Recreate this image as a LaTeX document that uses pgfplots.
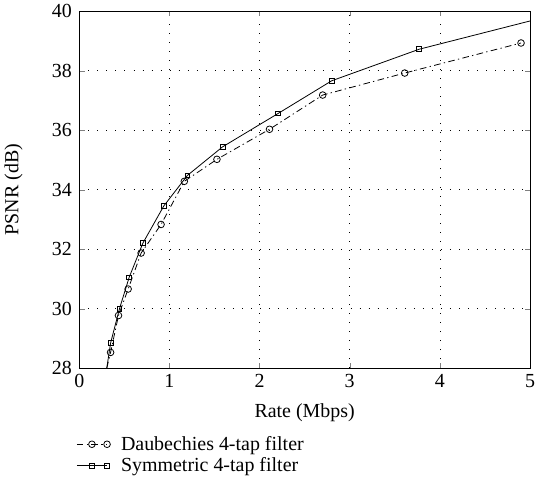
\documentclass[border=0pt]{standalone}
\usepackage{pgfplots}
\pgfplotsset{compat=1.18}
\usetikzlibrary{calc}
\usepackage{fontspec}
\setmainfont{Liberation Serif}
\begin{document}
\begin{tikzpicture}
\begin{axis}[
  scale only axis,
  width=339pt, height=268.5pt,
  xmin=0, xmax=5, ymin=28, ymax=40,
  xtick={0,1,2,3,4,5}, ytick={28,30,...,40},
  /pgf/number format/assume math mode=true,
  tick label style={font=\fontsize{15}{17}\selectfont},
  xticklabel style={yshift=-1pt},
  yticklabel style={xshift=-2pt},
  label style={font=\fontsize{15}{17}\selectfont},
  xlabel={Rate (Mbps)}, ylabel={PSNR (dB)},
  xlabel style={at={(axis description cs:0.5,-0.126)}, anchor=center},
  ylabel style={at={(axis description cs:-0.146,0.5)}, anchor=center},
  grid=major,
  major grid style={black, line width=0.5pt, dash pattern=on 0.6pt off 6.2pt},
  tick align=inside, tick pos=both,
  major tick length=4pt,
  axis line style={line width=0.8pt},
  legend image code/.code={\draw[mark repeat=2,mark phase=2,#1] plot coordinates {(0cm,0cm) (0.4cm,0cm) (0.8cm,0cm)};},
  legend style={draw=none, fill=none, at={(axis description cs:-0.007,-0.175)}, anchor=north west,
    font=\fontsize{15}{17}\selectfont, row sep=0pt, inner xsep=0pt,
    nodes={inner xsep=0pt}, /tikz/every odd column/.append style={column sep=8pt}},
  legend cell align=left,
]
\addplot[black, line width=0.6pt, dash pattern=on 5pt off 2.5pt on 1pt off 2.5pt,
  mark=o, mark size=2.5pt, mark options={solid}, mark indices={2,3,4,5,6,7,8,9,10,11,12}]
coordinates {
(0.305,28.0) (0.347,28.53) (0.435,29.77) (0.542,30.66) (0.686,31.87) (0.907,32.83)
(1.165,34.28) (1.527,35.02) (2.11,36.03) (2.70,37.18) (3.61,37.92) (4.90,38.93)
};
\addlegendentry{Daubechies 4-tap filter}
\addplot[black, line width=0.6pt, mark=square, mark size=1.8pt, mark indices={2,3,4,5,6,7,8,9,10,11}]
coordinates {
(0.305,28.0) (0.347,28.84) (0.446,30.0) (0.553,31.05) (0.705,32.2) (0.937,33.45)
(1.20,34.48) (1.59,35.44) (2.205,36.56) (2.80,37.66) (3.77,38.72) (5.0,39.67)
};
\addlegendentry{Symmetric 4-tap filter}
\end{axis}
\useasboundingbox ($(current axis.south west)+(-58.5pt,-101.25pt)$) rectangle ($(current axis.north east)+(9.75pt,5.25pt)$);
\end{tikzpicture}
\end{document}
